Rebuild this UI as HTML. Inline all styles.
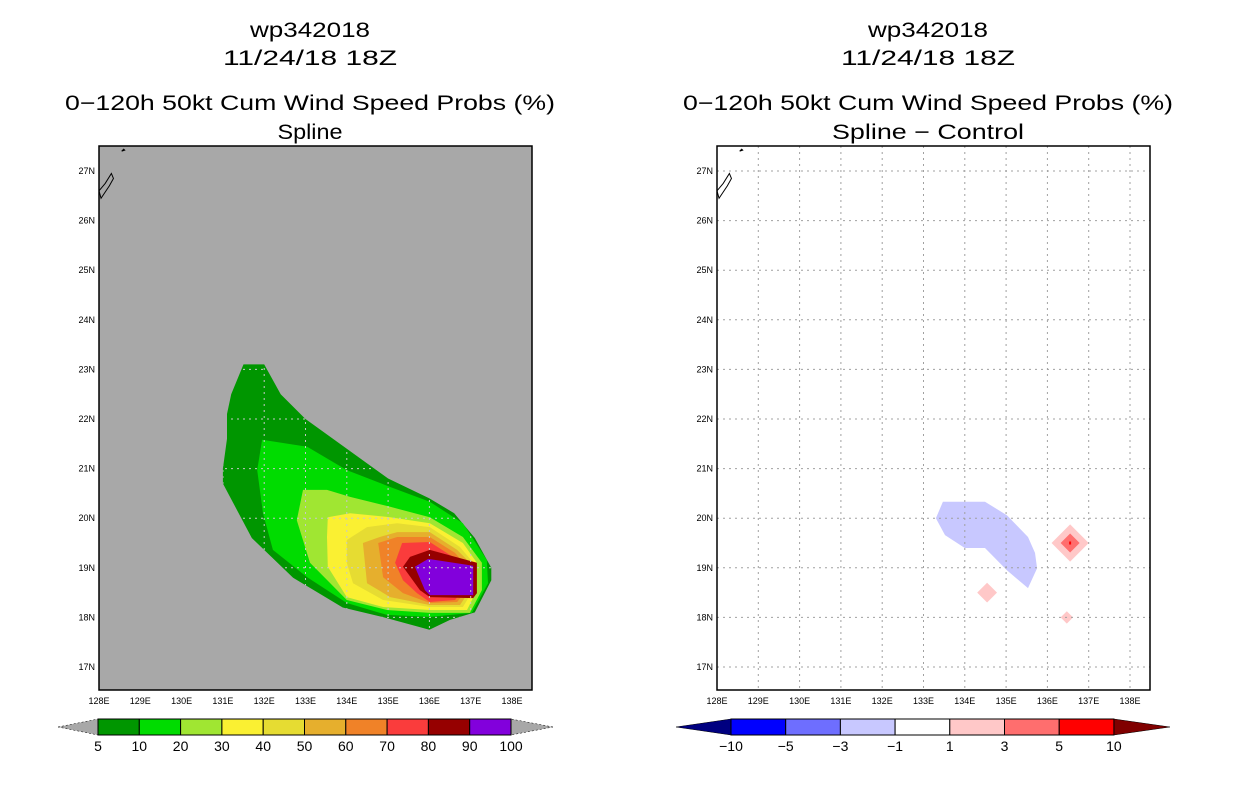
<!DOCTYPE html>
<html><head><meta charset="utf-8"><style>
body{margin:0;background:#fff;width:1236px;height:800px;overflow:hidden}
svg{display:block;font-family:"Liberation Sans",sans-serif}
</style></head><body>
<svg id="s" width="1236" height="800" xmlns="http://www.w3.org/2000/svg"></svg>
<script>
const lonTicks=[128,129,130,131,132,133,134,135,136,137,138];
const latTicks=[17,18,19,20,21,22,23,24,25,26,27];
const probLevels=[5,10,20,30,40,50,60,70,80,90,100];
const probColors=["#009600","#00dc00","#a0e632","#faf032","#e6dc32","#e6af2d","#f08228","#fa3c3c","#960000","#8200dc"];
const diffLevels=[-10,-5,-3,-1,1,3,5,10];
const diffColors=["#0000ff","#6e6eff","#c8c8ff","#ffffff","#ffc8c8","#ff6e6e","#ff0000"];
const c5=[[131.5,23.1],[132.0,23.1],[132.4,22.5],[133.0,22.0],[134.0,21.4],[135.0,20.8],[136.0,20.4],[136.6,20.1],[137.1,19.6],[137.5,19.0],[137.5,18.75],[137.1,18.1],[136.5,17.95],[136.0,17.75],[134.9,18.0],[133.9,18.2],[132.7,18.8],[131.7,19.6],[131.0,20.7],[131.0,21.0],[131.1,21.6],[131.1,22.1],[131.2,22.5]];
const c10=[[131.95,21.58],[133.04,21.44],[134.0,20.97],[135.05,20.63],[136.01,20.33],[136.81,19.9],[137.39,19.16],[137.42,18.69],[137.03,18.09],[136.01,18.01],[134.97,18.05],[134.0,18.29],[133.04,18.81],[132.21,19.36],[131.97,20.1],[131.83,20.97]];
const c20=[[132.94,20.57],[133.52,20.57],[134.08,20.43],[135.05,20.23],[136.01,20.02],[136.81,19.62],[137.27,19.1],[137.27,18.55],[136.98,18.09],[136.01,18.09],[134.97,18.15],[134.0,18.35],[133.11,19.1],[132.79,19.96]];
const c30=[[133.54,20.02],[134.08,20.1],[135.05,20.02],[136.01,19.9],[136.81,19.5],[137.15,19.1],[137.15,18.55],[136.91,18.15],[136.01,18.15],[134.88,18.21],[134.0,18.41],[133.54,19.02],[133.52,19.62]];
const c40=[[134.0,19.56],[134.49,19.82],[135.22,19.9],[136.01,19.82],[136.74,19.42],[137.06,19.1],[137.06,18.55],[136.81,18.21],[136.01,18.21],[134.88,18.35],[134.15,18.69],[134.0,19.1]];
const c50=[[134.39,19.5],[134.8,19.62],[135.22,19.72],[136.01,19.72],[136.67,19.36],[136.98,19.1],[136.98,18.55],[136.74,18.25],[136.01,18.25],[135.05,18.41],[134.49,18.69]];
const c60=[[134.76,19.5],[135.22,19.62],[136.01,19.62],[136.62,19.3],[136.91,19.02],[136.91,18.55],[136.67,18.31],[136.01,18.29],[135.36,18.49],[134.88,18.81]];
const c70=[[135.17,19.1],[135.34,19.5],[136.01,19.52],[136.57,19.22],[136.81,19.02],[136.81,18.55],[136.62,18.35],[136.01,18.31],[135.7,18.49],[135.36,18.75]];
const c80=[[135.36,19.02],[135.53,19.22],[136.01,19.36],[137.15,19.1],[137.15,18.49],[137.06,18.39],[136.01,18.41],[135.77,18.55]];
const c90=[[135.65,19.02],[135.97,19.18],[137.06,19.04],[137.06,18.45],[136.01,18.45],[135.89,18.55]];
const probContours=[c5,c10,c20,c30,c40,c50,c60,c70,c80,c90];
const negArea=[[133.47,20.33],[134.49,20.33],[135.02,20.06],[135.53,19.62],[135.7,19.3],[135.75,18.99],[135.53,18.59],[135.02,18.95],[134.49,19.4],[134.0,19.4],[133.52,19.66],[133.3,20.0]];
const diamondLon=[136.55,136.55,134.54,136.47];
const diamondLat=[19.5,19.5,18.5,18.0];
const diamondSize=[0.45,0.23,0.24,0.15];
const diamondCls=[4,5,4,4];

const S=document.getElementById('s');const NS="http://www.w3.org/2000/svg";
function el(t,a,p){const e=document.createElementNS(NS,t);for(const k in a)e.setAttribute(k,a[k]);(p||S).appendChild(e);return e;}
const PX=41.3,PY=49.6,TOP=146,BOT=690;
function xs(ox){return lon=>ox+(lon-128)*PX;}
function ys(lat){return 171+(27-lat)*PY;}
function txt(x,y,s,size,anchor,name,len){const t=el('text',{x:x,y:y,'font-size':size,'text-anchor':anchor||'middle',fill:'#000'});if(len){t.setAttribute('textLength',len);t.setAttribute('lengthAdjust','spacingAndGlyphs');}t.textContent=s;return t;}
function pts(poly,X){return poly.map(p=>X(p[0]).toFixed(1)+','+ys(p[1]).toFixed(1)).join(' ');}

function panel(ox,cx,sub,subLen,isLeft){
  const X=xs(ox);const R=ox+433;
  const g=el('g',{});
  txt(cx,37,'wp342018',21,'middle','storm-id-title',120);
  txt(cx,65,'11/24/18 18Z',21,'middle','date-title',174);
  txt(cx,110,'0\u2212120h 50kt Cum Wind Speed Probs (%)',21,'middle','main-title',490);
  txt(cx,139,sub,21,'middle','subtitle',subLen);
  const bg=el('rect',{x:ox,y:TOP,width:433,height:BOT-TOP,fill:isLeft?'#a8a8a8':'#fff'},g);
  
  const grid=el('g',{stroke:'#a0a0a0','stroke-width':1,'stroke-dasharray':'2,4'},g);
  if(isLeft){
    probContours.forEach((c,i)=>{const p=el('polygon',{points:pts(c,X),fill:probColors[i]},g);});
    const cp=el('clipPath',{id:'cl'},g);el('polygon',{points:pts(c5,X)},cp);
    grid.setAttribute('clip-path','url(#cl)');grid.setAttribute('stroke','#c8c8c8');
    g.appendChild(grid);
  }else{
    const p=el('polygon',{points:pts(negArea,X),fill:diffColors[2]},g);
    diamondLon.forEach((lo,i)=>{const cxp=X(lo),cyp=ys(diamondLat[i]),h=diamondSize[i]*PX;
      const d=el('polygon',{points:`${cxp-h},${cyp} ${cxp},${cyp-h} ${cxp+h},${cyp} ${cxp},${cyp+h}`,fill:diffColors[diamondCls[i]]},g);
      });
    const dot=el('rect',{x:X(diamondLon[0])-1,y:ys(diamondLat[0])-1.5,width:2,height:3,fill:'#ff0000'},g);
    
    g.appendChild(grid);
  }
  lonTicks.forEach(l=>{if(l>128)el('line',{x1:X(l),x2:X(l),y1:TOP,y2:BOT},grid);
    txt(X(l),704,l+'E',9,'middle','x-tick-label');});
  latTicks.forEach(l=>{el('line',{x1:ox,x2:R,y1:ys(l),y2:ys(l)},grid);
    txt(ox-4,ys(l)+3,l+'N',9,'end','y-tick-label');});
  const isl=el('path',{d:`M${X(128.05)},${ys(26.45)} L${X(128.25)},${ys(26.7)} L${X(128.35)},${ys(26.85)} L${X(128.3)},${ys(26.95)} L${X(128.15)},${ys(26.75)} L${X(128.0)},${ys(26.6)} Z M${X(128.55)},${ys(27.4)} l2,-2 l1,1 z`,fill:'none',stroke:'#000','stroke-width':1},g);
  
  const fr=el('rect',{x:ox,y:TOP,width:433,height:BOT-TOP,fill:'none',stroke:'#000','stroke-width':1.5},g);
  
}
panel(99,310,'Spline',65,true);
panel(717,928,'Spline \u2212 Control',192,false);

(function(){const x0=98,w=41.3,y0=719,h=16;
  const g=el('g',{});
  el('polygon',{points:`58,727 ${x0},${y0} ${x0},${y0+h}`,fill:'#a8a8a8',stroke:'#000','stroke-width':0.5,'stroke-dasharray':'2,2'},g);
  el('polygon',{points:`553,727 ${x0+10*w},${y0} ${x0+10*w},${y0+h}`,fill:'#a8a8a8',stroke:'#000','stroke-width':0.5,'stroke-dasharray':'2,2'},g);
  probColors.forEach((c,i)=>{const r=el('rect',{x:x0+i*w,y:y0,width:w,height:h,fill:c,stroke:'#000','stroke-width':1},g);});
  probLevels.forEach((v,i)=>txt(x0+i*w,751,String(v),14,'middle','colorbar-label'));
})();
(function(){const x0=731,w=54.7,y0=719,h=16;
  const g=el('g',{});
  el('polygon',{points:`676,727 ${x0},${y0} ${x0},${y0+h}`,fill:'#000080',stroke:'#000','stroke-width':0.5},g);
  el('polygon',{points:`1170,727 ${x0+7*w},${y0} ${x0+7*w},${y0+h}`,fill:'#800000',stroke:'#000','stroke-width':0.5},g);
  diffColors.forEach((c,i)=>{const r=el('rect',{x:x0+i*w,y:y0,width:w,height:h,fill:c,stroke:'#000','stroke-width':1},g);});
  diffLevels.forEach((v,i)=>txt(x0+i*w,751,v<0?'\u2212'+(-v):String(v),14,'middle','colorbar-label'));
})();
</script>
</body></html>
